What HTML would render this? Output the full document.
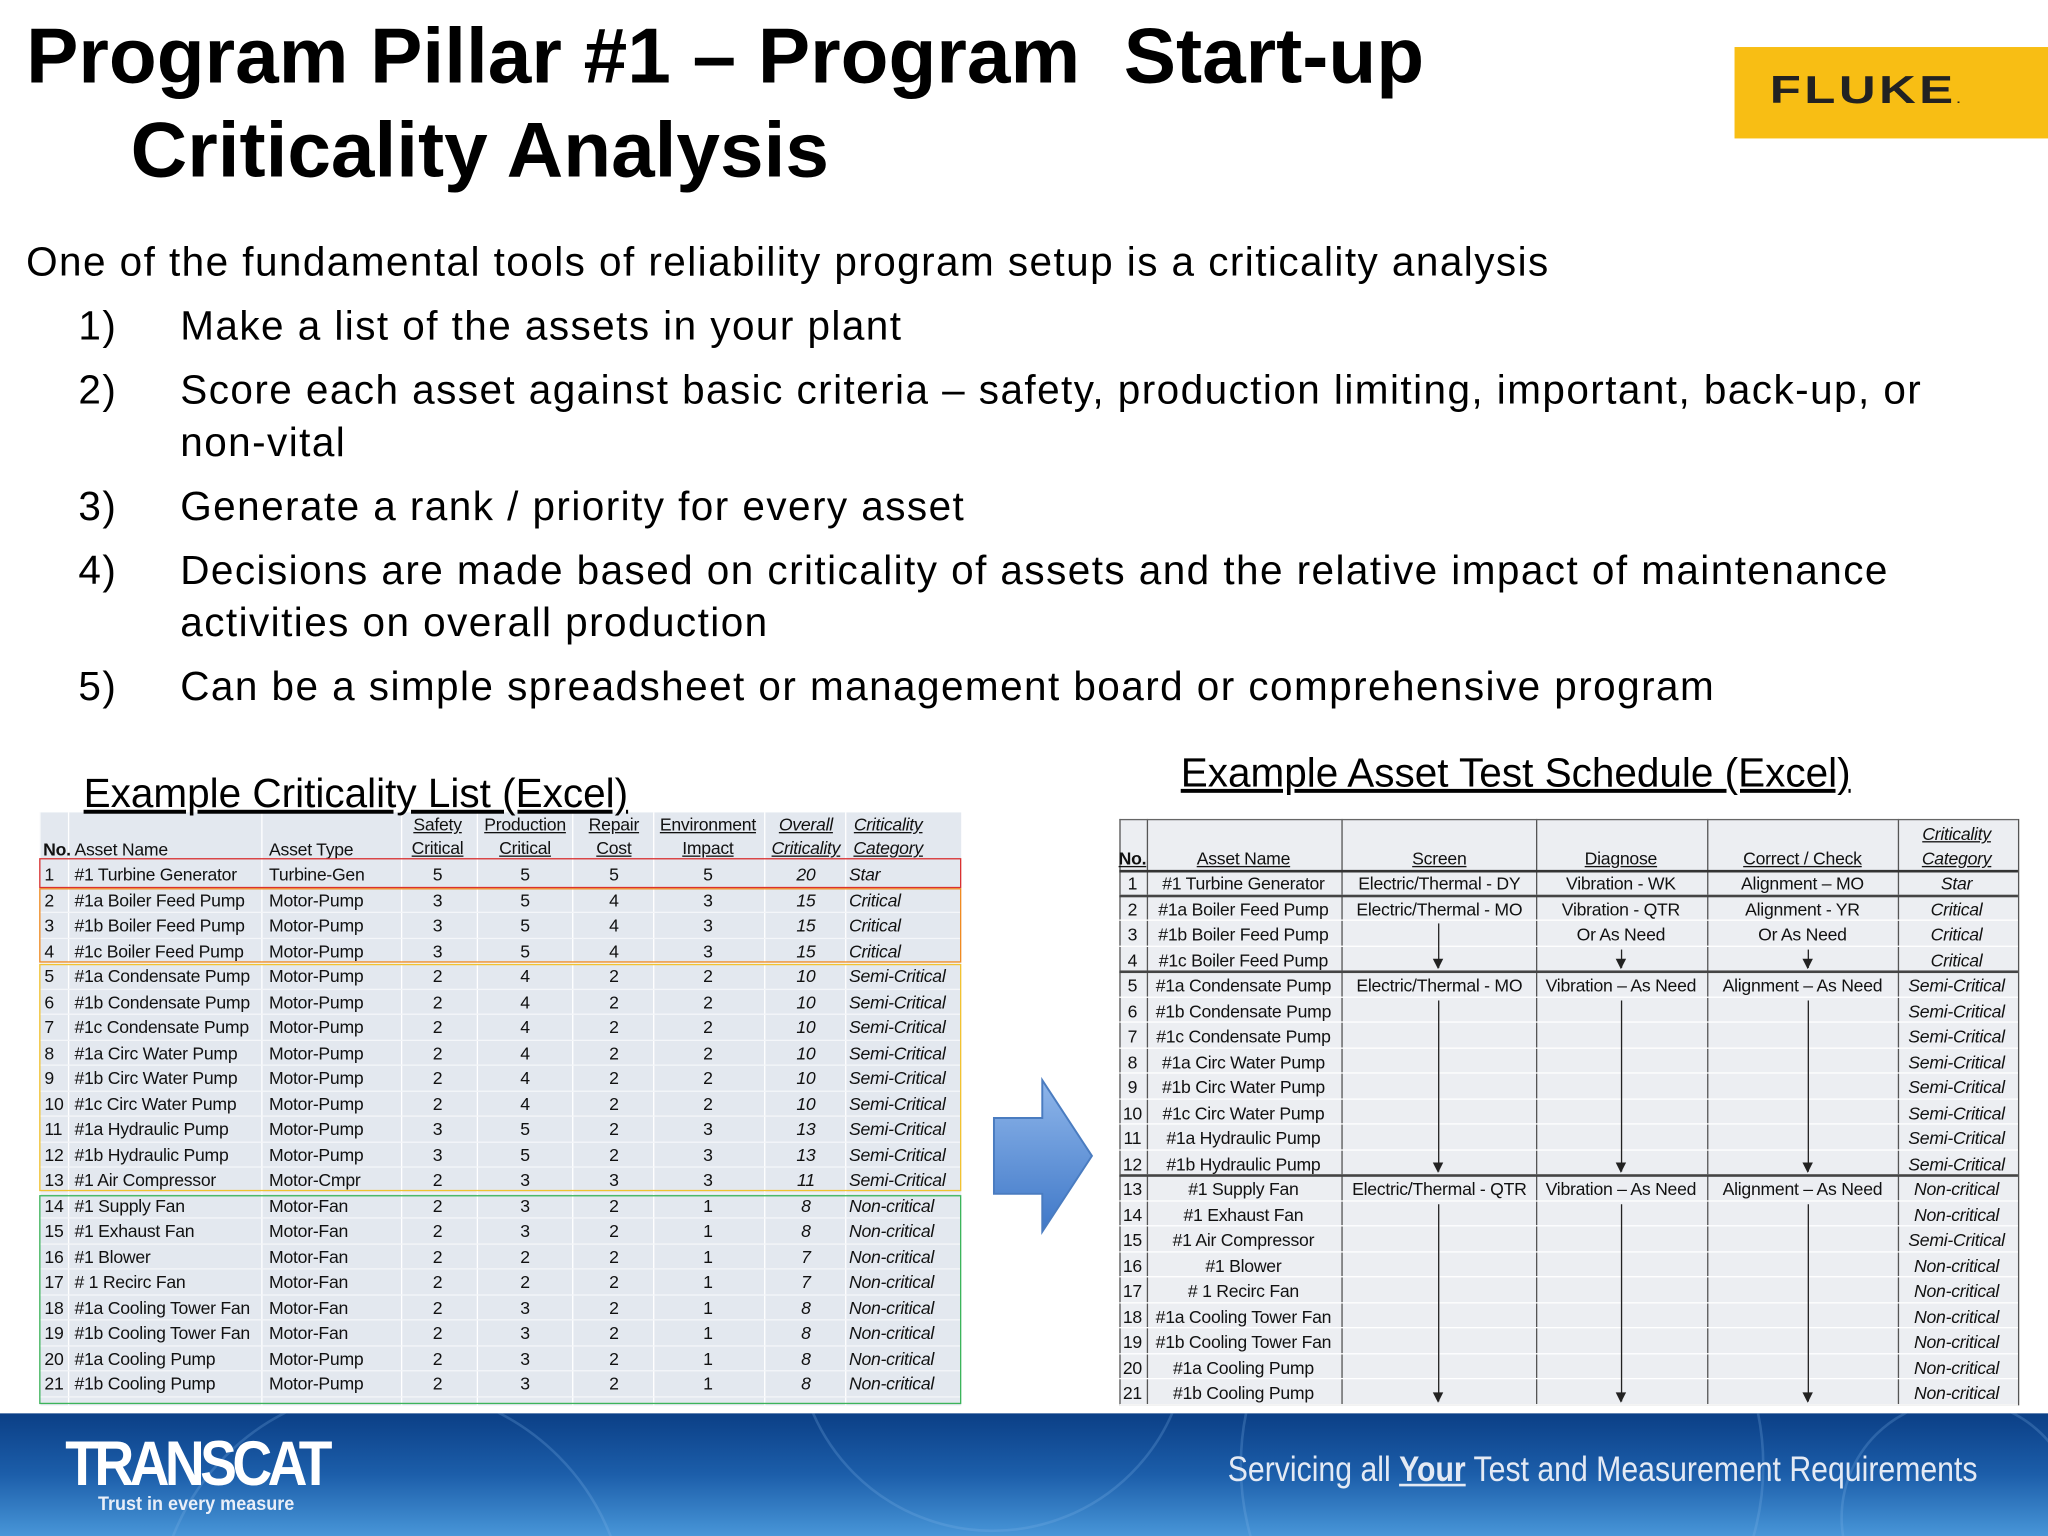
<!DOCTYPE html>
<html><head><meta charset="utf-8">
<style>
html,body{margin:0;padding:0;background:#fff;}
body{width:2048px;height:1536px;overflow:hidden;position:relative;}
#s{position:absolute;left:0;top:0;width:1568px;height:1176px;overflow:hidden;transform:scale(1.306122);transform-origin:0 0;font-family:"Liberation Sans",sans-serif;color:#000;}
.a{position:absolute;white-space:nowrap;}
.t{font-weight:bold;font-size:60px;}
.b{font-size:31px;letter-spacing:1.1px;line-height:40px;}
.c{font-family:"Liberation Sans",sans-serif;font-size:13.5px;letter-spacing:-0.2px;color:#111;line-height:19px;}
.u{text-decoration:underline;}
.i{font-style:italic;}
</style></head><body>
<div id="s">
<div class="a t" style="left:20px;top:8px">Program Pillar #1 – Program&nbsp; Start-up</div>
<div class="a t" style="left:100px;top:80px">Criticality Analysis</div>
<div class="a" style="left:1328px;top:36px;width:240px;height:70px;background:#f8be14">
<div class="a" style="left:27px;top:17px;font-weight:900;font-size:30px;color:#222;letter-spacing:2px;transform:scaleX(1.3);transform-origin:0 0">FLUKE<span style="font-size:8px">.</span></div></div>

<div class="a b" style="left:20px;top:181px">One of the fundamental tools of reliability program setup is a criticality analysis</div>
<div class="a b" style="left:60px;top:230px">1)</div>
<div class="a b" style="left:138px;top:230px">Make a list of the assets in your plant</div>
<div class="a b" style="left:60px;top:279px">2)</div>
<div class="a b" style="left:138px;top:279px">Score each asset against basic criteria – safety, production limiting, important, back-up, or<br>non-vital</div>
<div class="a b" style="left:60px;top:368px">3)</div>
<div class="a b" style="left:138px;top:368px">Generate a rank / priority for every asset</div>
<div class="a b" style="left:60px;top:417px">4)</div>
<div class="a b" style="left:138px;top:417px">Decisions are made based on criticality of assets and the relative impact of maintenance<br>activities on overall production</div>
<div class="a b" style="left:60px;top:506px">5)</div>
<div class="a b" style="left:138px;top:506px">Can be a simple spreadsheet or management board or comprehensive program</div>

<div class="a" id="lt" style="left:30px;top:622px;width:706px;height:454px;background:#e3e8ef"></div>
<div class="a" id="rt" style="left:857px;top:627px;width:688px;height:449px;background:#eceef2"></div>
<div class="a b u" style="left:64px;top:588px;letter-spacing:0;z-index:2">Example Criticality List (Excel)</div>
<div class="a b u" style="left:904px;top:572px;letter-spacing:0">Example Asset Test Schedule (Excel)</div>

<svg class="a" style="left:758px;top:824px" width="82" height="122">
<defs><linearGradient id="ag" x1="0" y1="0" x2="0" y2="1"><stop offset="0" stop-color="#8fb6ea"/><stop offset="1" stop-color="#3f78c8"/></linearGradient></defs>
<polygon points="3,32 40,32 40,3 78,61 40,119 40,90 3,90" fill="url(#ag)" stroke="#4a7cc0" stroke-width="1.5"/></svg>

<svg class="a" style="left:0;top:1082px" width="1568" height="94">
<defs><linearGradient id="fg" x1="0" y1="0" x2="0" y2="1"><stop offset="0" stop-color="#0b3f86"/><stop offset="0.5" stop-color="#1c5eaa"/><stop offset="1" stop-color="#4896d8"/></linearGradient></defs>
<rect width="1568" height="94" fill="url(#fg)"/>
<g fill="none" stroke="#7fb3e6" stroke-opacity="0.25" stroke-width="2">
<circle cx="760" cy="-60" r="150"/><circle cx="1150" cy="40" r="200"/><circle cx="300" cy="160" r="180"/><circle cx="1500" cy="80" r="90"/></g>
</svg>
<div class="a" style="left:50px;top:1094px;color:#fff;font-weight:900;font-size:48px;letter-spacing:-4px;transform:scaleX(0.88);transform-origin:0 0">TRANSCAT</div>
<div class="a" style="left:75px;top:1143px;color:#e8eef8;font-size:15px;font-weight:bold;transform:scaleX(0.92);transform-origin:0 0">Trust in every measure</div>
<div class="a" style="left:940px;top:1110px;color:#e4eaf4;font-size:27px;transform:scaleX(0.857);transform-origin:0 0">Servicing all <b><u>Your</u></b> Test and Measurement Requirements</div>
</div>

<script>
var names=["#1 Turbine Generator","#1a Boiler Feed Pump","#1b Boiler Feed Pump","#1c Boiler Feed Pump","#1a Condensate Pump","#1b Condensate Pump","#1c Condensate Pump","#1a Circ Water Pump","#1b Circ Water Pump","#1c Circ Water Pump","#1a Hydraulic Pump","#1b Hydraulic Pump","#1 Air Compressor","#1 Supply Fan","#1 Exhaust Fan","#1 Blower","# 1 Recirc Fan","#1a Cooling Tower Fan","#1b Cooling Tower Fan","#1a Cooling Pump","#1b Cooling Pump"];
var types=["Turbine-Gen","Motor-Pump","Motor-Pump","Motor-Pump","Motor-Pump","Motor-Pump","Motor-Pump","Motor-Pump","Motor-Pump","Motor-Pump","Motor-Pump","Motor-Pump","Motor-Cmpr","Motor-Fan","Motor-Fan","Motor-Fan","Motor-Fan","Motor-Fan","Motor-Fan","Motor-Pump","Motor-Pump"];
var safety=[5,3,3,3,2,2,2,2,2,2,3,3,2,2,2,2,2,2,2,2,2];
var production=[5,5,5,5,4,4,4,4,4,4,5,5,3,3,3,2,2,3,3,3,3];
var repair=[5,4,4,4,2,2,2,2,2,2,2,2,3,2,2,2,2,2,2,2,2];
var environment=[5,3,3,3,2,2,2,2,2,2,3,3,3,1,1,1,1,1,1,1,1];
var overall=[20,15,15,15,10,10,10,10,10,10,13,13,11,8,8,7,7,8,8,8,8];
var category=["Star","Critical","Critical","Critical","Semi-Critical","Semi-Critical","Semi-Critical","Semi-Critical","Semi-Critical","Semi-Critical","Semi-Critical","Semi-Critical","Semi-Critical","Non-critical","Non-critical","Non-critical","Non-critical","Non-critical","Non-critical","Non-critical","Non-critical"];
var rNames=["#1 Turbine Generator","#1a Boiler Feed Pump","#1b Boiler Feed Pump","#1c Boiler Feed Pump","#1a Condensate Pump","#1b Condensate Pump","#1c Condensate Pump","#1a Circ Water Pump","#1b Circ Water Pump","#1c Circ Water Pump","#1a Hydraulic Pump","#1b Hydraulic Pump","#1 Supply Fan","#1 Exhaust Fan","#1 Air Compressor","#1 Blower","# 1 Recirc Fan","#1a Cooling Tower Fan","#1b Cooling Tower Fan","#1a Cooling Pump","#1b Cooling Pump"];
var rCategory=["Star","Critical","Critical","Critical","Semi-Critical","Semi-Critical","Semi-Critical","Semi-Critical","Semi-Critical","Semi-Critical","Semi-Critical","Semi-Critical","Non-critical","Non-critical","Semi-Critical","Non-critical","Non-critical","Non-critical","Non-critical","Non-critical","Non-critical"];
var screenTxt=[[0,"Electric/Thermal - DY"],[1,"Electric/Thermal - MO"],[4,"Electric/Thermal - MO"],[12,"Electric/Thermal - QTR"]];
var diagTxt=[[0,"Vibration - WK"],[1,"Vibration - QTR"],[2,"Or As Need"],[4,"Vibration – As Need"],[12,"Vibration – As Need"]];
var corrTxt=[[0,"Alignment – MO"],[1,"Alignment - YR"],[2,"Or As Need"],[4,"Alignment – As Need"],[12,"Alignment – As Need"]];

var LT=document.getElementById('lt'), RT=document.getElementById('rt');
var PITCH=19.5;
function txt(parent,x,y,s,align,cls,name){
  var d=document.createElement('div');
  d.className='a c '+(cls||'');
  d.textContent=s;
  d.style.top=y+'px';
  if(align==='c'){d.style.left=(x-100)+'px';d.style.width='200px';d.style.textAlign='center';}
  else d.style.left=x+'px';
  
  
  parent.appendChild(d);return d;
}
function box(parent,x,y,w,h,css,name){
  var d=document.createElement('div');
  d.className='a';
  d.style.cssText='left:'+x+'px;top:'+y+'px;width:'+w+'px;height:'+h+'px;'+css;
  
  
  parent.appendChild(d);return d;
}
[0,22,170,277,335,408,470,555,617,706].forEach(function(x){
  box(LT,x,0,1,454,'background:#fff','left-col-divider');
});
for(var i=0;i<21;i++){
  var y=38+i*PITCH;
  box(LT,0,y+PITCH-1,706,1,'background:#f4f6f9','left-row-divider');
  txt(LT,4,y,String(i+1),'l','','row-number');
  txt(LT,27,y,names[i],'l','','asset-name');
  txt(LT,176,y,types[i],'l','','asset-type');
  txt(LT,305,y,String(safety[i]),'c','','safety-score');
  txt(LT,372,y,String(production[i]),'c','','production-score');
  txt(LT,440,y,String(repair[i]),'c','','repair-score');
  txt(LT,512,y,String(environment[i]),'c','','environment-score');
  txt(LT,587,y,String(overall[i]),'c','i','overall-criticality');
  txt(LT,620,y,category[i],'l','i','criticality-category');
}
txt(LT,3,19,'No.','l','','header-no').style.fontWeight='bold';
txt(LT,27,19,'Asset Name','l','','header-asset-name');
txt(LT,176,19,'Asset Type','l','','header-asset-type');
[[305,'Safety','Critical',''],[372,'Production','Critical',''],[440,'Repair','Cost',''],[512,'Environment','Impact',''],[587,'Overall','Criticality','i'],[650,'Criticality','Category','i']].forEach(function(h){
  txt(LT,h[0],0,h[1],'c','u '+h[3],'header-line-1');
  txt(LT,h[0],18,h[2],'c','u '+h[3],'header-line-2');
});
var groups=[[35,23,'#d93030'],[58,57,'#f08a20'],[116,174,'#f2c230'],[293,160,'#3cb45a']];
groups.forEach(function(g){box(LT,0,g[0],704,g[1]-2,'border:1.5px solid '+g[2],'criticality-group-outline');});

var cols=[0,21,170,319,450,596,688];
cols.forEach(function(x){box(RT,x,0,1,449,'background:#555','right-col-divider');});
box(RT,0,0,688,1,'background:#666','right-top-border');
box(RT,0,448,688,1,'background:#666','right-bottom-border');
box(RT,0,39,688,1.5,'background:#333','right-header-border');
for(var j=0;j<21;j++){
  var ry=39+j*PITCH;
  box(RT,0,ry+PITCH-1,688,1,'background:#fff','right-row-divider');
  txt(RT,10,ry+1,String(j+1),'c','','row-number');
  txt(RT,95,ry+1,rNames[j],'c','','asset-name');
  txt(RT,641,ry+1,rCategory[j],'c','i','criticality-category');
}
[1,4,12].forEach(function(k){box(RT,0,39+k*PITCH-1,688,2,'background:#444','group-separator');});
screenTxt.forEach(function(t){txt(RT,245,39+t[0]*PITCH+1,t[1],'c','','screen-test');});
diagTxt.forEach(function(t){txt(RT,384,39+t[0]*PITCH+1,t[1],'c','','diagnose-test');});
corrTxt.forEach(function(t){txt(RT,523,39+t[0]*PITCH+1,t[1],'c','','correct-check-test');});
txt(RT,10,21,'No.','c','u','header-no').style.fontWeight='bold';
txt(RT,95,21,'Asset Name','c','u','header-asset-name');
txt(RT,245,21,'Screen','c','u','header-screen');
txt(RT,384,21,'Diagnose','c','u','header-diagnose');
txt(RT,523,21,'Correct / Check','c','u','header-correct-check');
txt(RT,641,2,'Criticality','c','u i','header-criticality');
txt(RT,641,21,'Category','c','u i','header-category');
function arrow(x,r0,r1){
  var y0=39+r0*PITCH+2, y1=39+r1*PITCH-3;
  box(RT,x,y0,1,y1-y0,'background:#222','arrow-line');
  box(RT,x-4,y1-7,0,0,'border-left:4.5px solid transparent;border-right:4.5px solid transparent;border-top:8px solid #222','arrow-head');
}
arrow(244,2,4);arrow(244,5,12);arrow(244,13,21);
arrow(384,3,4);arrow(384,5,12);arrow(384,13,21);
arrow(527,3,4);arrow(527,5,12);arrow(527,13,21);
</script>
</body></html>
